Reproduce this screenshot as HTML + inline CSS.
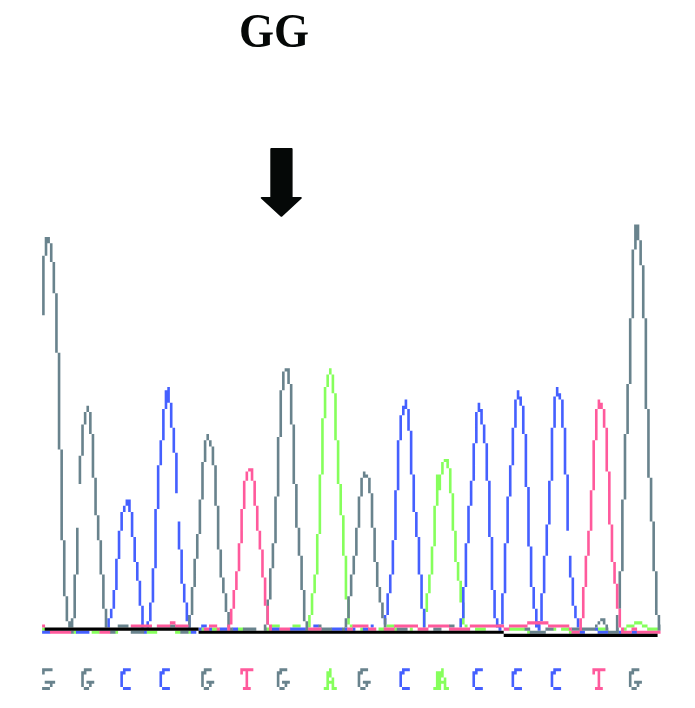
<!DOCTYPE html>
<html><head><meta charset="utf-8"><title>GG</title>
<style>
html,body{margin:0;padding:0;background:#fff;}
body{width:695px;height:708px;overflow:hidden;position:relative;font-family:"Liberation Serif",serif;}
#t{position:absolute;left:239.2px;top:7.7px;font-family:"Liberation Serif",serif;font-weight:bold;font-size:45px;line-height:1;color:#050807;white-space:nowrap;letter-spacing:0px;transform:scale(1,1.065);transform-origin:0 0;will-change:transform;}
svg{position:absolute;left:0;top:0;}
</style></head><body>
<div id="t">GG</div>
<svg width="695" height="708" viewBox="0 0 695 708">
<defs><filter id="b" x="-2%" y="-2%" width="104%" height="104%"><feGaussianBlur stdDeviation="0.35"/></filter></defs>
<path d="M271.3 148 Q270.3 148 270.3 149 L270.3 196.9 L261.5 196.9 Q260 197.4 261 198.6 L280.6 216.4 Q281.4 217 282.2 216.4 L301.6 198.6 Q302.6 197.4 301 196.9 L292.6 196.9 L292.6 149 Q292.6 148 291.6 148 Z" fill="#050807"/>
<g filter="url(#b)">
<path fill="#86ff5c" d="M308.11 615.1h2.61v12.5h-2.61zM310.72 593.24h2.61v21.87h-2.61zM313.33 574.49h2.61v18.74h-2.61zM315.94 533.88h2.61v40.61h-2.61zM318.55 474.52h2.61v59.36h-2.61zM321.15 418.29h2.61v56.23h-2.61zM323.76 387.05h2.61v31.24h-2.61zM326.37 374.56h2.61v12.5h-2.61zM328.98 368.31h2.61v6.25h-2.61zM331.59 374.56h2.61v18.74h-2.61zM334.19 393.3h2.61v46.86h-2.61zM336.8 440.16h2.61v43.74h-2.61zM339.41 483.9h2.61v31.24h-2.61zM342.02 515.14h2.61v40.61h-2.61zM344.63 555.75h2.61v43.74h-2.61zM347.23 599.48h2.61v24.99h-2.61zM422.87 611.98h2.61v15.62h-2.61zM425.47 593.24h2.61v18.74h-2.61zM428.08 574.49h2.61v18.74h-2.61zM430.69 546.38h2.61v28.12h-2.61zM433.3 505.76h2.61v40.61h-2.61zM435.91 474.52h2.61v31.24h-2.61zM438.51 474.52h2.61v15.62h-2.61zM441.12 462.03h2.61v12.5h-2.61zM443.73 458.9h2.61v3.12h-2.61zM446.34 458.9h2.61v9.37h-2.61zM448.95 468.28h2.61v24.99h-2.61zM451.55 493.27h2.61v37.49h-2.61zM454.16 530.76h2.61v31.24h-2.61zM456.77 562h2.61v18.74h-2.61zM459.38 580.74h2.61v21.87h-2.61zM461.99 602.61h2.61v21.87h-2.61zM464.59 624.48h2.61v3.12h-2.61zM42.1 627.6h2.96v3.12h-2.96zM73.39 630.72h2.96v3.12h-2.96zM91.65 630.72h8.17v3.12h-8.17zM115.12 630.72h2.96v3.12h-2.96zM146.42 630.72h10.78v3.12h-10.78zM175.11 630.72h5.57v3.12h-5.57zM188.15 630.72h2.96v3.12h-2.96zM201.19 627.6h2.96v3.12h-2.96zM211.62 627.6h5.57v3.12h-5.57zM237.7 627.6h5.57v3.12h-5.57zM266.39 627.6h2.96v3.12h-2.96zM360.27 627.6h2.96v3.12h-2.96zM378.53 627.6h5.57v3.12h-5.57zM394.18 627.6h2.96v3.12h-2.96zM409.83 627.6h2.96v3.12h-2.96zM475.03 627.6h10.78v3.12h-10.78zM271.6 624.48h8.17v3.12h-8.17zM292.47 624.48h8.17v3.12h-8.17zM349.84 624.48h2.96v3.12h-2.96zM386.35 624.48h8.17v3.12h-8.17zM464.59 624.48h2.96v3.12h-2.96zM508.93 627.6h16v3.12h-16zM553.27 627.6h2.96v3.12h-2.96zM561.09 627.6h8.17v3.12h-8.17zM597.6 627.6h8.17v3.12h-8.17zM623.68 627.6h2.96v3.12h-2.96zM647.15 627.6h10.78v3.12h-10.78zM527.19 630.72h2.96v3.12h-2.96zM568.91 630.72h2.96v3.12h-2.96zM626.29 624.48h8.17v3.12h-8.17zM641.94 624.48h5.57v3.12h-5.57zM634.11 621.35h8.17v3.12h-8.17zM328.98 668.21h2.61v3.12h-2.61zM326.37 671.34h5.22v3.12h-5.22zM326.37 674.46h5.22v3.12h-5.22zM326.37 677.58h2.61v3.12h-2.61zM331.59 677.58h2.61v3.12h-2.61zM326.37 680.71h7.82v3.12h-7.82zM326.37 683.83h2.61v3.12h-2.61zM331.59 683.83h2.61v3.12h-2.61zM323.76 686.96h5.22v3.12h-5.22zM331.59 686.96h5.22v3.12h-5.22zM441.12 668.21h2.61v3.12h-2.61zM435.91 671.34h7.82v3.12h-7.82zM435.91 674.46h7.82v3.12h-7.82zM435.91 677.58h5.22v3.12h-5.22zM443.73 677.58h2.61v3.12h-2.61zM435.91 680.71h10.43v3.12h-10.43zM435.91 683.83h5.22v3.12h-5.22zM443.73 683.83h2.61v3.12h-2.61zM433.3 686.96h7.82v3.12h-7.82zM443.73 686.96h5.22v3.12h-5.22z"/>
<path fill="#4560ff" d="M107.3 618.23h2.61v9.37h-2.61zM109.91 608.86h2.61v9.37h-2.61zM112.51 590.11h2.61v18.74h-2.61zM115.12 558.87h2.61v31.24h-2.61zM117.73 530.76h2.61v28.12h-2.61zM120.34 512.01h2.61v18.74h-2.61zM122.95 505.76h2.61v6.25h-2.61zM125.55 499.52h2.61v6.25h-2.61zM128.16 499.52h2.61v12.5h-2.61zM130.77 512.01h2.61v24.99h-2.61zM133.38 537h2.61v24.99h-2.61zM135.99 562h2.61v18.74h-2.61zM138.59 580.74h2.61v24.99h-2.61zM141.2 605.73h2.61v21.87h-2.61zM146.42 621.35h2.61v6.25h-2.61zM149.03 602.61h2.61v18.74h-2.61zM151.63 568.24h2.61v34.36h-2.61zM154.24 508.89h2.61v59.36h-2.61zM156.85 465.15h2.61v43.74h-2.61zM159.46 440.16h2.61v24.99h-2.61zM162.07 408.92h2.61v31.24h-2.61zM164.67 390.18h2.61v18.74h-2.61zM167.28 387.05h2.61v15.62h-2.61zM169.89 402.67h2.61v24.99h-2.61zM172.5 427.66h2.61v24.99h-2.61zM175.11 452.66h2.61v40.61h-2.61zM177.71 521.38h2.61v28.12h-2.61zM180.32 549.5h2.61v34.36h-2.61zM182.93 583.86h2.61v18.74h-2.61zM185.54 602.61h2.61v18.74h-2.61zM188.15 615.1h2.61v12.5h-2.61zM383.75 615.1h2.61v9.37h-2.61zM386.35 593.24h2.61v21.87h-2.61zM388.96 574.49h2.61v18.74h-2.61zM391.57 540.13h2.61v34.36h-2.61zM394.18 490.14h2.61v49.98h-2.61zM396.79 440.16h2.61v49.98h-2.61zM399.39 415.17h2.61v24.99h-2.61zM402 405.8h2.61v9.37h-2.61zM404.61 399.55h2.61v9.37h-2.61zM407.22 408.92h2.61v21.87h-2.61zM409.83 430.79h2.61v43.74h-2.61zM412.43 474.52h2.61v37.49h-2.61zM415.04 512.01h2.61v24.99h-2.61zM417.65 537h2.61v37.49h-2.61zM420.26 574.49h2.61v34.36h-2.61zM422.87 608.86h2.61v18.74h-2.61zM459.38 618.23h2.61v9.37h-2.61zM461.99 586.99h2.61v31.24h-2.61zM464.59 543.25h2.61v43.74h-2.61zM467.2 505.76h2.61v37.49h-2.61zM469.81 480.77h2.61v24.99h-2.61zM472.42 443.28h2.61v37.49h-2.61zM475.03 412.04h2.61v31.24h-2.61zM477.63 402.67h2.61v9.37h-2.61zM480.24 408.92h2.61v15.62h-2.61zM482.85 424.54h2.61v18.74h-2.61zM485.46 443.28h2.61v37.49h-2.61zM488.07 480.77h2.61v56.23h-2.61zM490.67 537h2.61v53.11h-2.61zM493.28 590.11h2.61v28.12h-2.61zM495.89 618.23h2.61v9.37h-2.61zM498.5 624.48h2.61v6.25h-2.61zM498.5 624.48h2.61v6.25h-2.61zM501.11 593.24h2.61v31.24h-2.61zM503.71 543.25h2.61v49.98h-2.61zM506.32 496.39h2.61v46.86h-2.61zM508.93 465.15h2.61v31.24h-2.61zM511.54 427.66h2.61v37.49h-2.61zM514.15 399.55h2.61v28.12h-2.61zM516.75 390.18h2.61v9.37h-2.61zM519.36 396.42h2.61v9.37h-2.61zM521.97 405.8h2.61v28.12h-2.61zM524.58 433.91h2.61v53.11h-2.61zM527.19 487.02h2.61v59.36h-2.61zM529.79 546.38h2.61v40.61h-2.61zM532.4 586.99h2.61v21.87h-2.61zM535.01 608.86h2.61v18.74h-2.61zM537.62 621.35h2.61v9.37h-2.61zM540.23 593.24h2.61v28.12h-2.61zM542.83 555.75h2.61v37.49h-2.61zM545.44 524.51h2.61v31.24h-2.61zM548.05 480.77h2.61v43.74h-2.61zM550.66 427.66h2.61v53.11h-2.61zM553.27 396.42h2.61v31.24h-2.61zM555.87 387.05h2.61v9.37h-2.61zM558.48 393.3h2.61v6.25h-2.61zM561.09 399.55h2.61v28.12h-2.61zM563.7 427.66h2.61v46.86h-2.61zM566.31 474.52h2.61v56.23h-2.61zM568.91 555.75h2.61v21.87h-2.61zM571.52 577.62h2.61v28.12h-2.61zM574.13 605.73h2.61v12.5h-2.61zM576.74 618.23h2.61v9.37h-2.61zM42.1 630.72h8.17v3.12h-8.17zM76 630.72h13.39v3.12h-13.39zM143.81 630.72h2.96v3.12h-2.96zM190.75 630.72h5.57v3.12h-5.57zM198.58 627.6h2.96v3.12h-2.96zM209.01 627.6h2.96v3.12h-2.96zM219.44 627.6h8.17v3.12h-8.17zM232.48 627.6h5.57v3.12h-5.57zM271.6 627.6h8.17v3.12h-8.17zM289.86 627.6h16v3.12h-16zM331.59 627.6h10.78v3.12h-10.78zM344.63 627.6h2.96v3.12h-2.96zM352.45 627.6h2.96v3.12h-2.96zM362.88 627.6h5.57v3.12h-5.57zM498.5 627.6h2.96v3.12h-2.96zM201.19 624.48h5.57v3.12h-5.57zM313.33 624.48h5.57v3.12h-5.57zM370.71 624.48h2.96v3.12h-2.96zM537.62 627.6h2.96v3.12h-2.96zM594.99 627.6h2.96v3.12h-2.96zM579.35 630.72h5.57v3.12h-5.57zM597.6 630.72h10.78v3.12h-10.78zM618.47 630.72h2.96v3.12h-2.96zM631.51 630.72h5.57v3.12h-5.57zM535.01 624.48h5.57v3.12h-5.57zM122.95 668.21h7.82v3.12h-7.82zM120.34 671.34h5.22v3.12h-5.22zM120.34 674.46h2.61v3.12h-2.61zM120.34 677.58h2.61v3.12h-2.61zM120.34 680.71h2.61v3.12h-2.61zM120.34 683.83h2.61v3.12h-2.61zM122.95 686.96h7.82v3.12h-7.82zM162.07 668.21h7.82v3.12h-7.82zM159.46 671.34h5.22v3.12h-5.22zM159.46 674.46h2.61v3.12h-2.61zM159.46 677.58h2.61v3.12h-2.61zM159.46 680.71h2.61v3.12h-2.61zM159.46 683.83h2.61v3.12h-2.61zM162.07 686.96h7.82v3.12h-7.82zM402 668.21h7.82v3.12h-7.82zM399.39 671.34h5.22v3.12h-5.22zM399.39 674.46h2.61v3.12h-2.61zM399.39 677.58h2.61v3.12h-2.61zM399.39 680.71h2.61v3.12h-2.61zM399.39 683.83h2.61v3.12h-2.61zM402 686.96h7.82v3.12h-7.82zM475.03 668.21h7.82v3.12h-7.82zM472.42 671.34h5.22v3.12h-5.22zM472.42 674.46h2.61v3.12h-2.61zM472.42 677.58h2.61v3.12h-2.61zM472.42 680.71h2.61v3.12h-2.61zM472.42 683.83h2.61v3.12h-2.61zM475.03 686.96h7.82v3.12h-7.82zM514.15 668.21h7.82v3.12h-7.82zM511.54 671.34h5.22v3.12h-5.22zM511.54 674.46h2.61v3.12h-2.61zM511.54 677.58h2.61v3.12h-2.61zM511.54 680.71h2.61v3.12h-2.61zM511.54 683.83h2.61v3.12h-2.61zM514.15 686.96h7.82v3.12h-7.82zM553.27 668.21h7.82v3.12h-7.82zM550.66 671.34h5.22v3.12h-5.22zM550.66 674.46h2.61v3.12h-2.61zM550.66 677.58h2.61v3.12h-2.61zM550.66 680.71h2.61v3.12h-2.61zM550.66 683.83h2.61v3.12h-2.61zM553.27 686.96h7.82v3.12h-7.82z"/>
<path fill="#69838d" d="M42.1 255.84h2.61v59.36h-2.61zM44.71 237.1h2.61v18.74h-2.61zM47.31 237.1h2.61v6.25h-2.61zM49.92 243.35h2.61v18.74h-2.61zM52.53 262.09h2.61v31.24h-2.61zM55.14 293.33h2.61v59.36h-2.61zM57.75 352.69h2.61v96.84h-2.61zM60.35 449.53h2.61v90.6h-2.61zM62.96 540.13h2.61v56.23h-2.61zM65.57 596.36h2.61v24.99h-2.61zM68.18 621.35h2.61v6.25h-2.61zM70.79 618.23h2.61v9.37h-2.61zM73.39 574.49h2.61v43.74h-2.61zM76 527.63h2.61v46.86h-2.61zM78.61 455.78h2.61v28.12h-2.61zM81.22 424.54h2.61v31.24h-2.61zM83.83 412.04h2.61v12.5h-2.61zM86.43 405.8h2.61v6.25h-2.61zM89.04 412.04h2.61v21.87h-2.61zM91.65 433.91h2.61v43.74h-2.61zM94.26 477.65h2.61v37.49h-2.61zM96.87 515.14h2.61v24.99h-2.61zM99.47 540.13h2.61v34.36h-2.61zM102.08 574.49h2.61v34.36h-2.61zM104.69 608.86h2.61v18.74h-2.61zM188.15 615.1h2.61v12.5h-2.61zM190.75 586.99h2.61v28.12h-2.61zM193.36 558.87h2.61v28.12h-2.61zM195.97 533.88h2.61v24.99h-2.61zM198.58 499.52h2.61v34.36h-2.61zM201.19 462.03h2.61v37.49h-2.61zM203.79 440.16h2.61v21.87h-2.61zM206.4 433.91h2.61v6.25h-2.61zM209.01 440.16h2.61v6.25h-2.61zM211.62 446.41h2.61v18.74h-2.61zM214.23 465.15h2.61v40.61h-2.61zM216.83 505.76h2.61v43.74h-2.61zM219.44 549.5h2.61v28.12h-2.61zM222.05 577.62h2.61v15.62h-2.61zM224.66 593.24h2.61v18.74h-2.61zM227.27 611.98h2.61v15.62h-2.61zM263.78 624.48h2.61v6.25h-2.61zM266.39 599.48h2.61v24.99h-2.61zM268.99 568.24h2.61v31.24h-2.61zM271.6 543.25h2.61v24.99h-2.61zM274.21 496.39h2.61v46.86h-2.61zM276.82 437.04h2.61v59.36h-2.61zM279.43 390.18h2.61v46.86h-2.61zM282.03 371.43h2.61v18.74h-2.61zM284.64 368.31h2.61v3.12h-2.61zM287.25 368.31h2.61v15.62h-2.61zM289.86 383.93h2.61v40.61h-2.61zM292.47 424.54h2.61v59.36h-2.61zM295.07 483.9h2.61v43.74h-2.61zM297.68 527.63h2.61v28.12h-2.61zM300.29 555.75h2.61v34.36h-2.61zM302.9 590.11h2.61v31.24h-2.61zM305.51 621.35h2.61v6.25h-2.61zM344.63 618.23h2.61v9.37h-2.61zM347.23 596.36h2.61v21.87h-2.61zM349.84 574.49h2.61v21.87h-2.61zM352.45 555.75h2.61v18.74h-2.61zM355.06 527.63h2.61v28.12h-2.61zM357.67 496.39h2.61v31.24h-2.61zM360.27 477.65h2.61v18.74h-2.61zM362.88 471.4h2.61v6.25h-2.61zM365.49 474.52h2.61v3.12h-2.61zM368.1 477.65h2.61v15.62h-2.61zM370.71 493.27h2.61v34.36h-2.61zM373.31 527.63h2.61v34.36h-2.61zM375.92 562h2.61v24.99h-2.61zM378.53 586.99h2.61v15.62h-2.61zM381.14 602.61h2.61v15.62h-2.61zM383.75 618.23h2.61v9.37h-2.61zM594.99 624.48h2.61v3.12h-2.61zM597.6 621.35h2.61v3.12h-2.61zM600.21 618.23h2.61v3.12h-2.61zM602.82 618.23h2.61v3.12h-2.61zM602.82 621.35h2.61v3.12h-2.61zM605.43 624.48h2.61v6.25h-2.61zM615.86 615.1h2.61v15.62h-2.61zM618.47 571.37h2.61v37.49h-2.61zM621.07 499.52h2.61v71.85h-2.61zM623.68 433.91h2.61v65.6h-2.61zM626.29 383.93h2.61v49.98h-2.61zM628.9 318.32h2.61v65.6h-2.61zM631.51 249.6h2.61v68.73h-2.61zM634.11 224.6h2.61v24.99h-2.61zM636.72 224.6h2.61v15.62h-2.61zM639.33 240.22h2.61v24.99h-2.61zM641.94 265.22h2.61v53.11h-2.61zM644.55 318.32h2.61v90.6h-2.61zM647.15 408.92h2.61v68.73h-2.61zM649.76 477.65h2.61v43.74h-2.61zM652.37 521.38h2.61v49.98h-2.61zM654.98 571.37h2.61v43.74h-2.61zM657.59 615.1h2.61v15.62h-2.61zM117.73 624.48h10.78v3.12h-10.78zM169.89 624.48h5.57v3.12h-5.57zM70.79 630.72h2.96v3.12h-2.96zM109.91 630.72h5.57v3.12h-5.57zM130.77 630.72h13.39v3.12h-13.39zM180.32 630.72h8.17v3.12h-8.17zM229.87 627.6h2.96v3.12h-2.96zM242.91 627.6h13.39v3.12h-13.39zM263.78 627.6h2.96v3.12h-2.96zM305.51 627.6h2.96v3.12h-2.96zM321.15 627.6h10.78v3.12h-10.78zM342.02 627.6h2.96v3.12h-2.96zM396.79 627.6h10.78v3.12h-10.78zM433.3 627.6h8.17v3.12h-8.17zM318.55 624.48h2.96v3.12h-2.96zM448.95 624.48h5.57v3.12h-5.57zM524.58 627.6h5.57v3.12h-5.57zM545.44 627.6h8.17v3.12h-8.17zM571.52 627.6h23.82v3.12h-23.82zM605.43 627.6h2.96v3.12h-2.96zM615.86 627.6h2.96v3.12h-2.96zM657.59 627.6h2.96v3.12h-2.96zM529.79 630.72h16v3.12h-16zM608.03 630.72h10.78v3.12h-10.78zM657.59 624.48h2.96v3.12h-2.96zM42.1 668.21h10.43v3.12h-10.43zM42.1 671.34h2.61v3.12h-2.61zM44.71 680.71h10.43v3.12h-10.43zM49.92 683.83h2.61v3.12h-2.61zM42.1 686.96h7.82v3.12h-7.82zM83.83 668.21h7.82v3.12h-7.82zM81.22 671.34h5.22v3.12h-5.22zM81.22 674.46h2.61v3.12h-2.61zM81.22 677.58h2.61v3.12h-2.61zM81.22 680.71h2.61v3.12h-2.61zM86.43 680.71h7.82v3.12h-7.82zM81.22 683.83h2.61v3.12h-2.61zM89.04 683.83h2.61v3.12h-2.61zM83.83 686.96h5.22v3.12h-5.22zM203.79 668.21h7.82v3.12h-7.82zM201.19 671.34h5.22v3.12h-5.22zM201.19 674.46h2.61v3.12h-2.61zM201.19 677.58h2.61v3.12h-2.61zM201.19 680.71h2.61v3.12h-2.61zM206.4 680.71h7.82v3.12h-7.82zM201.19 683.83h2.61v3.12h-2.61zM209.01 683.83h2.61v3.12h-2.61zM203.79 686.96h5.22v3.12h-5.22zM279.43 668.21h7.82v3.12h-7.82zM276.82 671.34h5.22v3.12h-5.22zM276.82 674.46h2.61v3.12h-2.61zM276.82 677.58h2.61v3.12h-2.61zM276.82 680.71h2.61v3.12h-2.61zM282.03 680.71h7.82v3.12h-7.82zM276.82 683.83h2.61v3.12h-2.61zM284.64 683.83h2.61v3.12h-2.61zM279.43 686.96h5.22v3.12h-5.22zM360.27 668.21h7.82v3.12h-7.82zM357.67 671.34h5.22v3.12h-5.22zM357.67 674.46h2.61v3.12h-2.61zM357.67 677.58h2.61v3.12h-2.61zM357.67 680.71h2.61v3.12h-2.61zM362.88 680.71h7.82v3.12h-7.82zM357.67 683.83h2.61v3.12h-2.61zM365.49 683.83h2.61v3.12h-2.61zM360.27 686.96h5.22v3.12h-5.22zM631.51 668.21h7.82v3.12h-7.82zM628.9 671.34h5.22v3.12h-5.22zM628.9 674.46h2.61v3.12h-2.61zM628.9 677.58h2.61v3.12h-2.61zM628.9 680.71h2.61v3.12h-2.61zM634.11 680.71h7.82v3.12h-7.82zM628.9 683.83h2.61v3.12h-2.61zM636.72 683.83h2.61v3.12h-2.61zM631.51 686.96h5.22v3.12h-5.22z"/>
<path fill="#ff5a9c" d="M227.27 624.48h2.61v3.12h-2.61zM229.87 608.86h2.61v15.62h-2.61zM232.48 590.11h2.61v18.74h-2.61zM235.09 571.37h2.61v18.74h-2.61zM237.7 543.25h2.61v28.12h-2.61zM240.31 508.89h2.61v34.36h-2.61zM242.91 480.77h2.61v28.12h-2.61zM245.52 471.4h2.61v9.37h-2.61zM248.13 468.28h2.61v3.12h-2.61zM250.74 468.28h2.61v12.5h-2.61zM253.35 480.77h2.61v24.99h-2.61zM255.95 505.76h2.61v24.99h-2.61zM258.56 530.76h2.61v18.74h-2.61zM261.17 549.5h2.61v28.12h-2.61zM263.78 577.62h2.61v28.12h-2.61zM266.39 605.73h2.61v18.74h-2.61zM579.35 618.23h2.61v12.5h-2.61zM581.95 586.99h2.61v31.24h-2.61zM584.56 555.75h2.61v31.24h-2.61zM587.17 530.76h2.61v24.99h-2.61zM589.78 490.14h2.61v40.61h-2.61zM592.39 440.16h2.61v49.98h-2.61zM594.99 408.92h2.61v31.24h-2.61zM597.6 399.55h2.61v9.37h-2.61zM600.21 402.67h2.61v6.25h-2.61zM602.82 408.92h2.61v18.74h-2.61zM605.43 427.66h2.61v43.74h-2.61zM608.03 471.4h2.61v53.11h-2.61zM610.64 524.51h2.61v37.49h-2.61zM613.25 562h2.61v21.87h-2.61zM615.86 583.86h2.61v24.99h-2.61zM618.47 608.86h2.61v18.74h-2.61zM42.1 624.48h2.96v3.12h-2.96zM130.77 624.48h21.21v3.12h-21.21zM156.85 624.48h13.39v3.12h-13.39zM175.11 624.48h13.39v3.12h-13.39zM169.89 621.35h5.57v3.12h-5.57zM49.92 630.72h21.21v3.12h-21.21zM99.47 630.72h10.78v3.12h-10.78zM203.79 627.6h5.57v3.12h-5.57zM216.83 627.6h2.96v3.12h-2.96zM227.27 627.6h2.96v3.12h-2.96zM268.99 627.6h2.96v3.12h-2.96zM279.43 627.6h10.78v3.12h-10.78zM308.11 627.6h13.39v3.12h-13.39zM347.23 627.6h5.57v3.12h-5.57zM368.1 627.6h8.17v3.12h-8.17zM383.75 627.6h10.78v3.12h-10.78zM417.65 627.6h10.78v3.12h-10.78zM448.95 627.6h21.21v3.12h-21.21zM209.01 624.48h8.17v3.12h-8.17zM227.27 624.48h2.96v3.12h-2.96zM268.99 624.48h2.96v3.12h-2.96zM352.45 624.48h16v3.12h-16zM394.18 624.48h23.82v3.12h-23.82zM428.08 624.48h21.21v3.12h-21.21zM469.81 624.48h34.25v3.12h-34.25zM503.71 627.6h5.57v3.12h-5.57zM568.91 627.6h2.96v3.12h-2.96zM621.07 627.6h2.96v3.12h-2.96zM631.51 627.6h5.57v3.12h-5.57zM571.52 630.72h8.17v3.12h-8.17zM621.07 630.72h10.78v3.12h-10.78zM636.72 630.72h23.82v3.12h-23.82zM508.93 624.48h18.61v3.12h-18.61zM548.05 624.48h21.21v3.12h-21.21zM527.19 621.35h21.21v3.12h-21.21zM240.31 668.21h13.04v3.12h-13.04zM240.31 671.34h2.61v3.12h-2.61zM245.52 671.34h2.61v3.12h-2.61zM245.52 674.46h2.61v3.12h-2.61zM245.52 677.58h2.61v3.12h-2.61zM245.52 680.71h2.61v3.12h-2.61zM245.52 683.83h2.61v3.12h-2.61zM242.91 686.96h7.82v3.12h-7.82zM592.39 668.21h13.04v3.12h-13.04zM592.39 671.34h2.61v3.12h-2.61zM597.6 671.34h2.61v3.12h-2.61zM597.6 674.46h2.61v3.12h-2.61zM597.6 677.58h2.61v3.12h-2.61zM597.6 680.71h2.61v3.12h-2.61zM597.6 683.83h2.61v3.12h-2.61zM594.99 686.96h7.82v3.12h-7.82z"/>
<path fill="#000000" d="M44.71 627.6h153.87v3.12h-153.87zM198.58 630.72h305.14v3.12h-305.14zM503.71 633.85h153.87v3.12h-153.87z"/>
</g>
</svg>
</body></html>
